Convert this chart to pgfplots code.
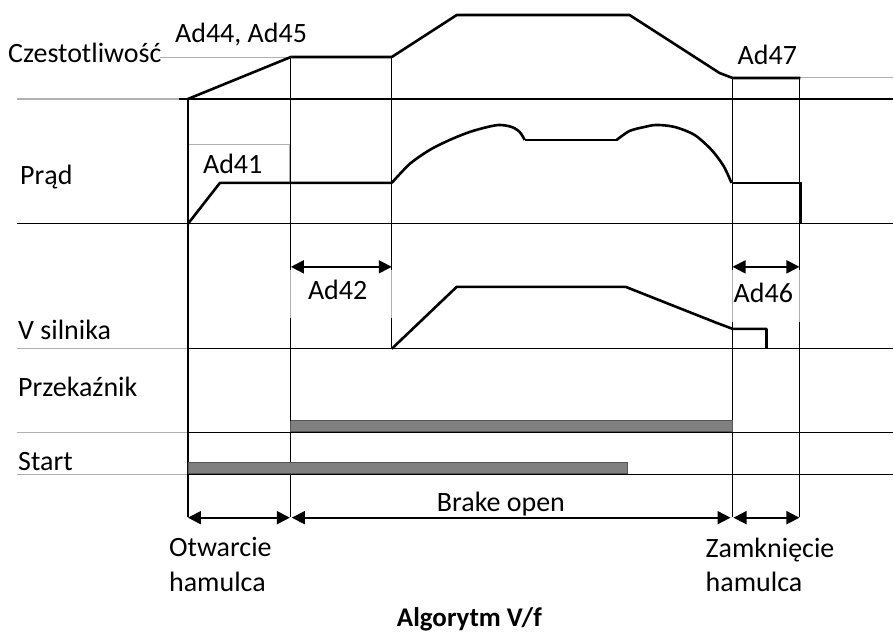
\documentclass[border=0pt]{standalone}
\usepackage{fontspec}
\setmainfont{Carlito}
\usepackage{pgfplots}
\usetikzlibrary{arrows.meta}
\pgfplotsset{compat=1.18}
\definecolor{barfill}{HTML}{808080}
\definecolor{bardraw}{HTML}{555555}
\definecolor{faint}{HTML}{B0B0B0}
\begin{document}
\begin{tikzpicture}[font=\fontsize{28}{32}\selectfont]
\begin{axis}[
  scale only axis, width=894pt, height=633pt,
  xmin=0, xmax=894, ymin=0, ymax=633, y dir=reverse,
  hide axis, clip=false,
]
% background so that the page keeps the full frame
\addplot[fill=white, draw=white, line width=0.1pt] coordinates {
  (0,0) (894,0) (894,633) (0,633) (0,0)};
% row separators
\addplot[faint, line width=1.2pt] coordinates {(17,99) (179,99)};
\addplot[black, line width=1.2pt] coordinates {(179,99) (894,99)};
\addplot[black, line width=1.2pt] coordinates {(17,224) (894,224)};
\addplot[faint, line width=1.2pt] coordinates {(17,349) (188,349)};
\addplot[black, line width=1.2pt] coordinates {(188,349) (894,349)};
\addplot[faint, line width=1.2pt] coordinates {(17,433) (188,433)};
\addplot[black, line width=1.2pt] coordinates {(188,433) (894,433)};
\addplot[faint, line width=1.2pt] coordinates {(17,475) (188,475)};
\addplot[black, line width=1.2pt] coordinates {(188,475) (894,475)};
% label guide lines
\addplot[faint, line width=1pt] coordinates {(160,57) (290,57)};
\addplot[faint, line width=1pt] coordinates {(801,78) (894,78)};
\addplot[faint, line width=1pt] coordinates {(188,183) (188,145) (290,145) (290,183)};
\addplot[faint, line width=1pt] coordinates {(291,270) (291,318)};
\addplot[faint, line width=1pt] coordinates {(392,270) (392,318)};
\addplot[faint, line width=1pt] coordinates {(733,270) (733,322)};
\addplot[faint, line width=1pt] coordinates {(800,270) (800,322)};
% time markers
\addplot[black, line width=1.2pt] coordinates {(188,99) (188,517)};
\addplot[black, line width=1.2pt] coordinates {(291,57) (291,270)};
\addplot[black, line width=1.2pt] coordinates {(291,318) (291,517)};
\addplot[black, line width=1.2pt] coordinates {(392,57) (392,270)};
\addplot[black, line width=1.2pt] coordinates {(392,318) (392,349)};
\addplot[black, line width=1.2pt] coordinates {(733,78) (733,270)};
\addplot[black, line width=1.2pt] coordinates {(733,322) (733,517)};
\addplot[black, line width=1.2pt] coordinates {(800,78) (800,270)};
\addplot[black, line width=1.2pt] coordinates {(800,322) (800,517)};
% frequency
\addplot[black, line width=2.6pt, line join=round] coordinates {
  (188,99) (291,57) (392,57) (457,15) (630,15) (720,73) (733,78) (801,78)};
% current
\addplot[black, line width=2.6pt, line join=round] coordinates {
  (188,224) (220,183) (392,183)};
\addplot[black, line width=2.6pt, smooth, tension=0.5] coordinates {
  (392,183) (410,164) (430,150) (450,140) (470,132) (488,127) (500,125)
  (512,127) (520,132) (525,140)};
\addplot[black, line width=2.6pt] coordinates {(525,140) (617,140)};
\addplot[black, line width=2.6pt, smooth, tension=0.5] coordinates {
  (617,140) (630,131) (645,127) (657,125) (675,127) (695,135) (712,150)
  (724,166) (732,183)};
\addplot[black, line width=2.6pt, line join=miter] coordinates {
  (732,183) (801,183) (801,224)};
% motor speed
\addplot[black, line width=2.6pt, line join=round] coordinates {
  (392,349) (457,287) (626,287) (717,323) (733,329) (767,329) (767,349)};
% relay and start bars
\addplot[fill=barfill, draw=bardraw, line width=0.8pt] coordinates {
  (291,421) (733,421) (733,432) (291,432) (291,421)};
\addplot[fill=barfill, draw=bardraw, line width=0.8pt] coordinates {
  (188,463) (628,463) (628,474) (188,474) (188,463)};
% dimension arrows
\pgfplotsset{dim/.style={black, line width=1.8pt,
  {Triangle[length=13pt,width=13pt]}-{Triangle[length=13pt,width=13pt]}}}
\addplot[dim] coordinates {(291,267) (392,267)};
\addplot[dim] coordinates {(733,267) (800,267)};
\addplot[dim] coordinates {(188,518) (290,518)};
\addplot[dim] coordinates {(292,518) (731,518)};
\addplot[dim] coordinates {(734,518) (800,518)};
% texts
\pgfplotsset{every axis/.append style={}}
\tikzset{lbl/.style={anchor=base west, inner sep=0pt}}
\node[lbl] at (axis cs:8,63) {Czestotliwość};
\node[lbl] at (axis cs:20,185) {Prąd};
\node[lbl] at (axis cs:18,340) {V silnika};
\node[lbl] at (axis cs:18,397) {Przekaźnik};
\node[lbl] at (axis cs:18,471) {Start};
\node[lbl] at (axis cs:175,42) {Ad44, Ad45};
\node[lbl] at (axis cs:203,174) {Ad41};
\node[lbl] at (axis cs:738,65) {Ad47};
\node[lbl] at (axis cs:308,300) {Ad42};
\node[lbl] at (axis cs:734,303) {Ad46};
\node[lbl] at (axis cs:437,512) {Brake open};
\node[lbl] at (axis cs:169,557) {Otwarcie};
\node[lbl] at (axis cs:169,592) {hamulca};
\node[lbl] at (axis cs:706,558) {Zamknięcie};
\node[lbl] at (axis cs:706,592) {hamulca};
\node[lbl, font=\fontsize{27}{30}\selectfont\bfseries] at (axis cs:397,627) {Algorytm V/f};
\end{axis}
\end{tikzpicture}
\end{document}
